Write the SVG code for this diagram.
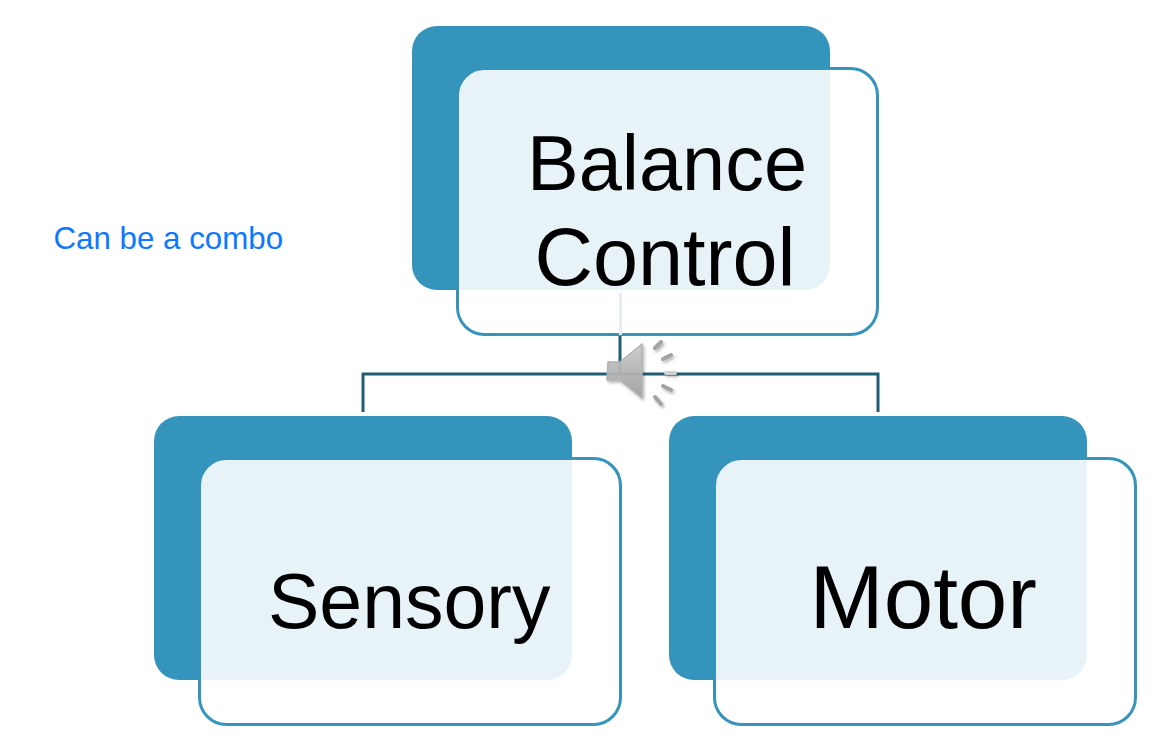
<svg xmlns="http://www.w3.org/2000/svg" width="1171" height="747" viewBox="0 0 1171 747">
<style>
.back{fill:#3494bb}
.front{fill:#fff;fill-opacity:.89;stroke:#3494bb;stroke-width:3}
.lbl{font-family:"Liberation Sans",Arial,sans-serif;fill:#000}
.note{font-family:"Liberation Sans",Arial,sans-serif;fill:#0d79ff;font-size:31.300px}
.conn{fill:none;stroke:#215e76;stroke-width:3}
.tick{stroke:#a3a3a3;stroke-width:4;stroke-linecap:round;fill:none}
</style>
<defs>
<linearGradient id="spk" x1="0" y1="0" x2="0" y2="1"><stop offset="0" stop-color="#cdcdcd"/><stop offset="1" stop-color="#a0a0a0"/></linearGradient>
<filter id="sh" x="-20%" y="-20%" width="140%" height="140%"><feDropShadow dx="1.500" dy="2" stdDeviation="1.500" flood-color="#000" flood-opacity=".3"/></filter>
</defs>
<rect width="1171" height="747" fill="#fff"/>
<g id="connectors">
<path class="conn" d="M620 335V374M363 412V374H878V412"/>
</g>
<g id="node-balance">
<rect class="back" x="412" y="26" width="418" height="264" rx="25"/>
<rect class="front" x="457.500" y="68.500" width="420" height="266" rx="27"/>
<text class="lbl" x="527" y="190" font-size="77.500">Balance</text>
<text class="lbl" x="534.500" y="285" font-size="81">Control</text>
</g>
<g id="node-sensory">
<rect class="back" x="154" y="416" width="418" height="264" rx="25"/>
<rect class="front" x="199.500" y="458.500" width="421" height="266" rx="27"/>
<text class="lbl" x="268" y="628" font-size="77">Sensory</text>
</g>
<g id="node-motor">
<rect class="back" x="669" y="416" width="418" height="264" rx="25"/>
<rect class="front" x="714.500" y="458.500" width="421" height="266" rx="27"/>
<text class="lbl" x="809.500" y="628" font-size="89">Motor</text>
</g>
<path d="M620.500 293V335" stroke="#e6eef3" stroke-width="3" fill="none"/>
<g id="note"><text class="note" x="53.500" y="249">Can be a combo</text></g>
<g id="speaker" filter="url(#sh)">
<path d="M608 362H620L642 344V398L620 380H607Z" fill="url(#spk)" fill-opacity=".92" stroke="#b0b0b0" stroke-width="1.500" stroke-linejoin="round"/>
<path class="tick" d="M655 348L661 342M663 359L671 355M663 386L671 390M655 397L661 404"/>
<path d="M666 373H675" stroke="#d0d0d0" stroke-width="4" stroke-linecap="round" fill="none"/>
</g>
</svg>
